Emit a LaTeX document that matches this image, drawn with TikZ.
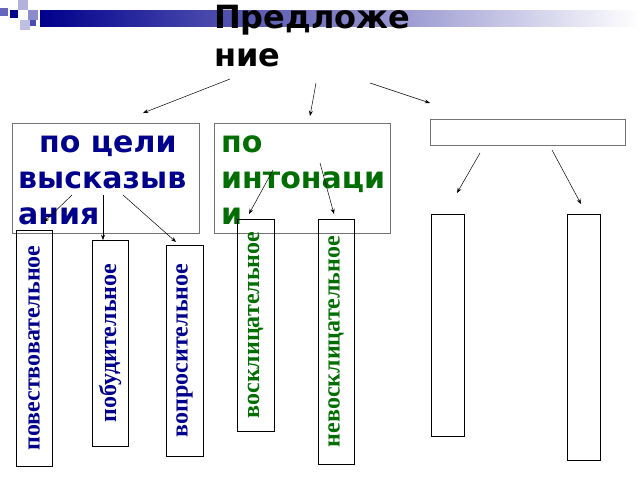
\documentclass[tikz,border=0pt]{standalone}
\usepackage{fontspec}
\setmainfont{Liberation Serif}
\newfontfamily\headfont{DejaVu Sans}
\usetikzlibrary{calc, positioning, arrows.meta}
\definecolor{navy}{RGB}{0,0,140}
\definecolor{dgreen}{RGB}{0,110,0}
\begin{document}
\begin{tikzpicture}[x=1pt, y=-1pt, >=Stealth, every node/.style={inner sep=0pt}]
  \tikzset{frame/.style={draw=black!55, line width=0.8pt},
    vbox/.style={draw=black, line width=0.8pt},
    vlabel/.style={rotate=90, font=\bfseries\fontsize{24}{24}\selectfont},
    grp/.style={font=\headfont\bfseries\fontsize{30}{36}\selectfont, align=left, anchor=north west},
    link/.style={->, line width=0.5pt}}
  \useasboundingbox (0,0) rectangle (640,480);
  % header bar
  \shade[left color=navy, right color=white] (40,10) rectangle (640,26);
  \fill[navy!60] (0,8) rectangle (8,16);
  \fill[navy] (10,10) rectangle (18,18);
  \fill[navy!30] (18,0) rectangle (28,10);
  \fill[navy!45] (28,10) rectangle (38,20);
  \fill[navy!25] (20,20) rectangle (30,30);
  \fill[navy!70] (30,20) rectangle (36,26);
  \node[font=\headfont\bfseries\fontsize{32}{38}\selectfont, align=left, anchor=north west] (title) at (214,5) {Предложе\\ние};
  % groups
  \draw[frame] (12,123) rectangle (199,233);
  \node[grp, text=navy] (aim) at (18,135) {\hspace*{0.7em}по цели\\высказыв\\ания};
  \draw[frame] (214,123) rectangle (390,233);
  \node[grp, text=dgreen] (tone) at (221,135) {по\\интонаци\\и};
  \draw[frame] (430,119) rectangle (625,145);
  % vertical boxes
  \draw[vbox] (16,230) rectangle node[vlabel, text=navy] (v1) {повествовательное} (52,466);
  \draw[vbox] (92,240) rectangle node[vlabel, text=navy] (v2) {побудительное} (128,446);
  \draw[vbox] (166,245) rectangle node[vlabel, text=navy] (v3) {вопросительное} (203,456);
  \draw[vbox] (237,219) rectangle node[vlabel, text=dgreen] (v4) {восклицательное} (274,431);
  \draw[vbox] (318,219) rectangle node[vlabel, text=dgreen] (v5) {невосклицательное} (354,464);
  \draw[vbox] (431,214) rectangle (464,436);
  \draw[vbox] (567,214) rectangle (600,460);
  % connectors
  \draw[link] (230,79) -- (143,113);
  \draw[link] (316,83) -- (310,116);
  \draw[link] (370,83) -- (430,103);
  \draw[link] (480,153) -- (457,193);
  \draw[link] (552,150) -- (581,204);
  \draw[link] (72,195) -- (44,222);
  \draw[link] (103,195) -- (103,240);
  \draw[link] (123,195) -- (176,242);
  \draw[link] (273,170) -- (249,214);
  \draw[link] (320,163) -- (334,214);
\end{tikzpicture}
\end{document}
